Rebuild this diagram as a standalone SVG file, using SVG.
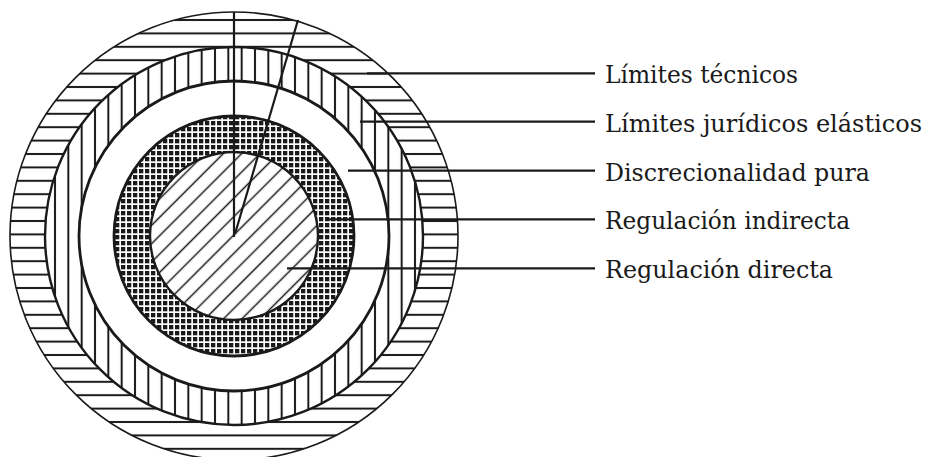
<svg xmlns="http://www.w3.org/2000/svg" width="928" height="457" viewBox="0 0 928 457">
  <defs>
    <pattern id="hHatch" patternUnits="userSpaceOnUse" x="0" y="13.3" width="20" height="13.4">
      <rect width="20" height="13.4" fill="#fff"/>
      <line x1="0" y1="6.7" x2="20" y2="6.7" stroke="#1a1a1a" stroke-width="2"/>
    </pattern>
    <pattern id="vHatch" patternUnits="userSpaceOnUse" x="-5" y="0" width="13.333" height="20">
      <rect width="13.333" height="20" fill="#fff"/>
      <line x1="6.667" y1="0" x2="6.667" y2="20" stroke="#1a1a1a" stroke-width="2"/>
    </pattern>
    <pattern id="grid" patternUnits="userSpaceOnUse" x="0" y="0" width="6" height="6">
      <rect width="6" height="6" fill="#fff"/>
      <rect x="1" y="1" width="4.3" height="4.3" fill="#1a1a1a"/>
    </pattern>
    <pattern id="dHatch" patternUnits="userSpaceOnUse" x="0" y="0" width="13" height="13" patternTransform="rotate(-45)">
      <rect width="13" height="13" fill="#fff"/>
      <line x1="0" y1="6.5" x2="13" y2="6.5" stroke="#1a1a1a" stroke-width="1.5"/>
    </pattern>
  </defs>
  <style>
    .ring { stroke: #1a1a1a; }
    .lead { stroke: #1a1a1a; stroke-width: 2.2; fill: none; }
    .label { font-family: "DejaVu Serif", "Liberation Serif", serif; font-size: 24px; fill: #1a1a1a; }
  </style>
  <rect width="928" height="457" fill="#fff"/>

  <g id="limites-tecnicos">
    <circle class="ring" cx="234" cy="236" r="224" fill="url(#hHatch)" stroke-width="1.6"/>
  </g>
  <g id="limites-juridicos">
    <circle class="ring" cx="234" cy="236" r="189" fill="url(#vHatch)" stroke-width="2.4"/>
  </g>
  <g id="discrecionalidad">
    <circle class="ring" cx="234" cy="236" r="155" fill="#fff" stroke-width="2.8"/>
  </g>
  <g id="regulacion-indirecta">
    <circle class="ring" cx="234" cy="236" r="120" fill="url(#grid)" stroke-width="2.8"/>
  </g>
  <g id="regulacion-directa">
    <circle class="ring" cx="234" cy="236" r="84" fill="url(#dHatch)" stroke-width="2.4"/>
  </g>

  <g id="pointer">
    <line class="lead" x1="234" y1="12" x2="234" y2="237"/>
    <line class="lead" x1="298" y1="20" x2="235" y2="234"/>
  </g>

  <g id="connectors">
    <line class="lead" x1="367" y1="73.3" x2="595" y2="73.3"/>
    <line class="lead" x1="360" y1="121.7" x2="595" y2="121.7"/>
    <line class="lead" x1="348" y1="170.7" x2="595" y2="170.7"/>
    <line class="lead" x1="325" y1="219.3" x2="595" y2="219.3"/>
    <line class="lead" x1="287" y1="268.3" x2="595" y2="268.3"/>
  </g>

  <g id="labels">
    <text class="label" x="605" y="83" textLength="193" lengthAdjust="spacingAndGlyphs">Límites técnicos</text>
    <text class="label" x="605" y="131.5" textLength="317" lengthAdjust="spacingAndGlyphs">Límites jurídicos elásticos</text>
    <text class="label" x="605" y="180.5" textLength="265" lengthAdjust="spacingAndGlyphs">Discrecionalidad pura</text>
    <text class="label" x="605" y="229" textLength="245" lengthAdjust="spacingAndGlyphs">Regulación indirecta</text>
    <text class="label" x="605" y="278" textLength="228" lengthAdjust="spacingAndGlyphs">Regulación directa</text>
  </g>
</svg>
